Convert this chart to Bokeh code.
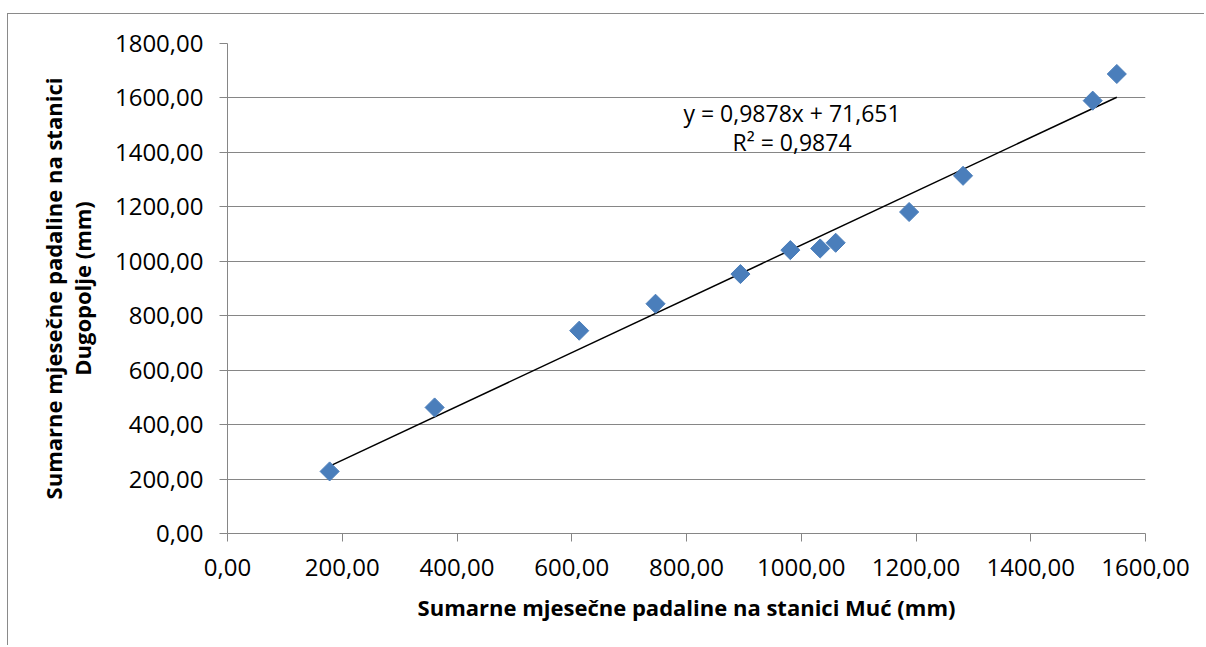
import numpy as np
from bokeh.plotting import figure
from bokeh.models import FixedTicker, Label, Range1d
from bokeh.embed import file_html
from bokeh.resources import INLINE

# Data
muc = [178, 361, 613, 746, 894, 981, 1033, 1060, 1188, 1282, 1508, 1550]
dugopolje = [228, 463, 745, 844, 953, 1041, 1047, 1068, 1181, 1314, 1590, 1688]

slope = 0.9878
intercept = 71.651
eq_text = "y = 0,9878x + 71,651"
r2_text = "R² = 0,9874"

x_ticks = [0, 200, 400, 600, 800, 1000, 1200, 1400, 1600]
x_tick_labels = ["0,00", "200,00", "400,00", "600,00", "800,00", "1000,00", "1200,00", "1400,00", "1600,00"]
y_ticks = [0, 200, 400, 600, 800, 1000, 1200, 1400, 1600, 1800]
y_tick_labels = ["0,00", "200,00", "400,00", "600,00", "800,00", "1000,00", "1200,00", "1400,00", "1600,00", "1800,00"]

x_title = "Sumarne mjesečne padaline na stanici Muć (mm)"
y_title = "Sumarne mjesečne padaline na stanici\nDugopolje (mm)"

FONT = "Open Sans"
GRAY = "#868686"

p = figure(width=1197, height=632, output_backend="svg", toolbar_location=None,
           x_range=Range1d(0, 1600), y_range=Range1d(0, 1800),
           min_border_left=219, min_border_right=60, min_border_top=29, min_border_bottom=113)
p.styles = {"margin-left": "7px", "margin-top": "13px",
            "border-left": "1px solid #8a8a8a", "border-top": "1px solid #8a8a8a"}
p.outline_line_color = None
p.background_fill_color = "white"
p.border_fill_color = "white"

p.xgrid.grid_line_color = None
p.ygrid.grid_line_color = GRAY
p.ygrid.grid_line_width = 1

for ax, ticks, labels in ((p.xaxis[0], x_ticks, x_tick_labels), (p.yaxis[0], y_ticks, y_tick_labels)):
    ax.ticker = FixedTicker(ticks=ticks)
    ax.major_label_overrides = {t: l for t, l in zip(ticks, labels)}
    ax.axis_line_color = GRAY
    ax.major_tick_line_color = GRAY
    ax.minor_tick_line_color = None
    ax.major_tick_in = 0
    ax.major_tick_out = 8
    ax.major_label_text_font = FONT
    ax.major_label_text_font_size = "24px"
    ax.major_label_text_color = "black"
    ax.axis_label_text_font = FONT
    ax.axis_label_text_font_style = "bold"
    ax.axis_label_text_font_size = "22px"
    ax.axis_label_text_color = "black"

p.xaxis.axis_label = x_title
p.yaxis.axis_label = y_title
p.xaxis.major_label_standoff = 17
p.yaxis.major_label_standoff = 16
p.xaxis.axis_label_standoff = 13
p.yaxis.axis_label_standoff = 15
p.yaxis.axis_label_text_line_height = 0.95

# Trend line from fit coefficients
xl = np.array([min(muc), max(muc)])
p.line(xl, slope * xl + intercept, line_color="black", line_width=1.5)

p.scatter(muc, dugopolje, marker="square", angle=np.pi / 4, size=13.5,
          fill_color="#4A7EBB", line_color="#4A7EBB", line_width=1)

p.add_layout(Label(x=984, y=1545, text=eq_text, text_align="center", text_baseline="middle",
                   text_font=FONT, text_font_size="23px", text_color="black"))
p.add_layout(Label(x=984, y=1438, text=r2_text, text_align="center", text_baseline="middle",
                   text_font=FONT, text_font_size="23px", text_color="black"))

open("out.html", "w").write(file_html(p, INLINE))
